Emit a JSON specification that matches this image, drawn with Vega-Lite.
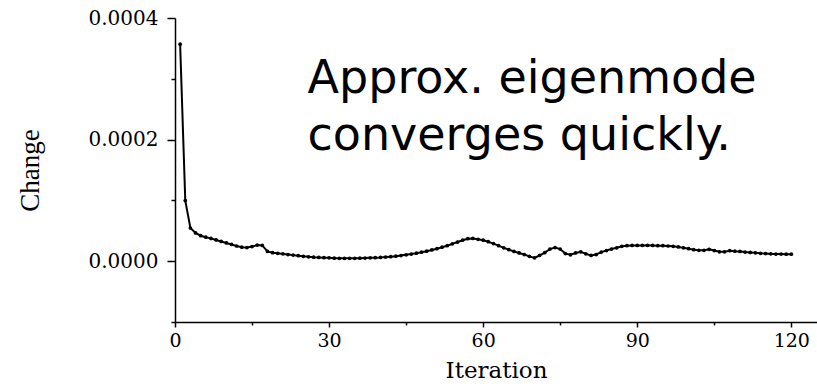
{
  "$schema": "https://vega.github.io/schema/vega-lite/v6.json",
  "autosize": {"type": "none"},
  "padding": {"left": 175, "top": 18, "right": 0, "bottom": 62},
  "width": 642,
  "height": 304,
  "background": "white",
  "config": {"view": {"stroke": null}},
  "layer": [
    {
      "data": {"values": [
        {"iteration": 1, "change": 3.57e-4}, {"iteration": 2, "change": 0.997e-4}, {"iteration": 3, "change": 0.546e-4},
        {"iteration": 4, "change": 0.464e-4}, {"iteration": 5, "change": 0.419e-4}, {"iteration": 6, "change": 0.395e-4},
        {"iteration": 7, "change": 0.375e-4}, {"iteration": 8, "change": 0.35e-4}, {"iteration": 9, "change": 0.325e-4},
        {"iteration": 10, "change": 0.30e-4}, {"iteration": 11, "change": 0.275e-4}, {"iteration": 12, "change": 0.25e-4},
        {"iteration": 13, "change": 0.23e-4}, {"iteration": 14, "change": 0.225e-4}, {"iteration": 15, "change": 0.24e-4},
        {"iteration": 16, "change": 0.265e-4}, {"iteration": 17, "change": 0.26e-4}, {"iteration": 18, "change": 0.16e-4},
        {"iteration": 19, "change": 0.14e-4}, {"iteration": 20, "change": 0.13e-4}, {"iteration": 21, "change": 0.12e-4},
        {"iteration": 22, "change": 0.11e-4}, {"iteration": 23, "change": 0.10e-4}, {"iteration": 24, "change": 0.09e-4},
        {"iteration": 25, "change": 0.08e-4}, {"iteration": 26, "change": 0.072e-4}, {"iteration": 27, "change": 0.066e-4},
        {"iteration": 28, "change": 0.062e-4}, {"iteration": 29, "change": 0.058e-4}, {"iteration": 30, "change": 0.055e-4},
        {"iteration": 31, "change": 0.05e-4}, {"iteration": 32, "change": 0.048e-4}, {"iteration": 33, "change": 0.047e-4},
        {"iteration": 34, "change": 0.047e-4}, {"iteration": 35, "change": 0.048e-4}, {"iteration": 36, "change": 0.05e-4},
        {"iteration": 37, "change": 0.052e-4}, {"iteration": 38, "change": 0.055e-4}, {"iteration": 39, "change": 0.058e-4},
        {"iteration": 40, "change": 0.062e-4}, {"iteration": 41, "change": 0.068e-4}, {"iteration": 42, "change": 0.075e-4},
        {"iteration": 43, "change": 0.083e-4}, {"iteration": 44, "change": 0.092e-4}, {"iteration": 45, "change": 0.105e-4},
        {"iteration": 46, "change": 0.118e-4}, {"iteration": 47, "change": 0.132e-4}, {"iteration": 48, "change": 0.148e-4},
        {"iteration": 49, "change": 0.165e-4}, {"iteration": 50, "change": 0.185e-4}, {"iteration": 51, "change": 0.205e-4},
        {"iteration": 52, "change": 0.23e-4}, {"iteration": 53, "change": 0.255e-4}, {"iteration": 54, "change": 0.285e-4},
        {"iteration": 55, "change": 0.315e-4}, {"iteration": 56, "change": 0.345e-4}, {"iteration": 57, "change": 0.37e-4},
        {"iteration": 58, "change": 0.375e-4}, {"iteration": 59, "change": 0.36e-4}, {"iteration": 60, "change": 0.345e-4},
        {"iteration": 61, "change": 0.32e-4}, {"iteration": 62, "change": 0.29e-4}, {"iteration": 63, "change": 0.255e-4},
        {"iteration": 64, "change": 0.22e-4}, {"iteration": 65, "change": 0.19e-4}, {"iteration": 66, "change": 0.16e-4},
        {"iteration": 67, "change": 0.135e-4}, {"iteration": 68, "change": 0.11e-4}, {"iteration": 69, "change": 0.08e-4},
        {"iteration": 70, "change": 0.055e-4}, {"iteration": 71, "change": 0.095e-4}, {"iteration": 72, "change": 0.14e-4},
        {"iteration": 73, "change": 0.20e-4}, {"iteration": 74, "change": 0.225e-4}, {"iteration": 75, "change": 0.20e-4},
        {"iteration": 76, "change": 0.125e-4}, {"iteration": 77, "change": 0.105e-4}, {"iteration": 78, "change": 0.135e-4},
        {"iteration": 79, "change": 0.155e-4}, {"iteration": 80, "change": 0.12e-4}, {"iteration": 81, "change": 0.095e-4},
        {"iteration": 82, "change": 0.11e-4}, {"iteration": 83, "change": 0.15e-4}, {"iteration": 84, "change": 0.175e-4},
        {"iteration": 85, "change": 0.20e-4}, {"iteration": 86, "change": 0.22e-4}, {"iteration": 87, "change": 0.245e-4},
        {"iteration": 88, "change": 0.255e-4}, {"iteration": 89, "change": 0.26e-4}, {"iteration": 90, "change": 0.26e-4},
        {"iteration": 91, "change": 0.26e-4}, {"iteration": 92, "change": 0.262e-4}, {"iteration": 93, "change": 0.26e-4},
        {"iteration": 94, "change": 0.255e-4}, {"iteration": 95, "change": 0.255e-4}, {"iteration": 96, "change": 0.25e-4},
        {"iteration": 97, "change": 0.245e-4}, {"iteration": 98, "change": 0.235e-4}, {"iteration": 99, "change": 0.22e-4},
        {"iteration": 100, "change": 0.205e-4}, {"iteration": 101, "change": 0.19e-4}, {"iteration": 102, "change": 0.18e-4},
        {"iteration": 103, "change": 0.18e-4}, {"iteration": 104, "change": 0.195e-4}, {"iteration": 105, "change": 0.175e-4},
        {"iteration": 106, "change": 0.155e-4}, {"iteration": 107, "change": 0.155e-4}, {"iteration": 108, "change": 0.172e-4},
        {"iteration": 109, "change": 0.165e-4}, {"iteration": 110, "change": 0.16e-4}, {"iteration": 111, "change": 0.15e-4},
        {"iteration": 112, "change": 0.145e-4}, {"iteration": 113, "change": 0.138e-4}, {"iteration": 114, "change": 0.13e-4},
        {"iteration": 115, "change": 0.125e-4}, {"iteration": 116, "change": 0.12e-4}, {"iteration": 117, "change": 0.118e-4},
        {"iteration": 118, "change": 0.117e-4}, {"iteration": 119, "change": 0.115e-4}, {"iteration": 120, "change": 0.115e-4}
      ]},
      "mark": {"type": "line", "color": "black", "strokeWidth": 2, "point": {"filled": true, "size": 14, "color": "black"}},
      "encoding": {
        "x": {
          "field": "iteration", "type": "quantitative",
          "scale": {"domain": [0, 125], "nice": false, "zero": false},
          "axis": {
            "title": "Iteration",
            "values": [0, 15, 30, 45, 60, 75, 90, 105, 120],
            "labelExpr": "datum.value % 30 === 0 ? datum.label : ''",
            "grid": false,
            "domainColor": "black", "domainWidth": 1.5,
            "tickColor": "black", "tickWidth": 1.5,
            "tickSize": {"condition": {"test": "datum.value % 30 !== 0", "value": 3}, "value": 5},
            "labelFont": "DejaVu Serif", "labelFontSize": 19, "labelColor": "black",
            "labelPadding": 4, "labelFlush": false, "labelOverlap": false,
            "titleFont": "DejaVu Serif", "titleFontSize": 23, "titleFontWeight": "normal", "titleColor": "black",
            "titlePadding": 9
          }
        },
        "y": {
          "field": "change", "type": "quantitative",
          "scale": {"domain": [-0.0001, 0.0004], "nice": false, "zero": false},
          "axis": {
            "title": "Change",
            "values": [-0.0001, 0, 0.0001, 0.0002, 0.0003, 0.0004],
            "format": ".4f",
            "labelExpr": "abs(round(datum.value * 10000)) % 2 === 0 ? datum.label : ''",
            "grid": false,
            "domainColor": "black", "domainWidth": 1.5,
            "tickColor": "black", "tickWidth": 1.5,
            "tickSize": {"condition": {"test": "abs(round(datum.value * 10000)) % 2 === 1", "value": 4}, "value": 8},
            "labelFont": "DejaVu Serif", "labelFontSize": 20, "labelColor": "black",
            "labelPadding": 9, "labelFlush": false, "labelOverlap": false,
            "titleFont": "Liberation Serif", "titleFontSize": 27, "titleFontWeight": "normal", "titleColor": "black",
            "titlePadding": 44
          }
        }
      }
    },
    {
      "data": {"values": [
        {"x": 25.8, "y": 0.0002759, "label": "Approx. eigenmode"},
        {"x": 25.8, "y": 0.0001827, "label": "converges quickly."}
      ]},
      "mark": {"type": "text", "font": "DejaVu Sans", "fontSize": 46, "align": "left", "baseline": "alphabetic", "color": "black"},
      "encoding": {
        "x": {"field": "x", "type": "quantitative"},
        "y": {"field": "y", "type": "quantitative"},
        "text": {"field": "label"}
      }
    }
  ]
}
